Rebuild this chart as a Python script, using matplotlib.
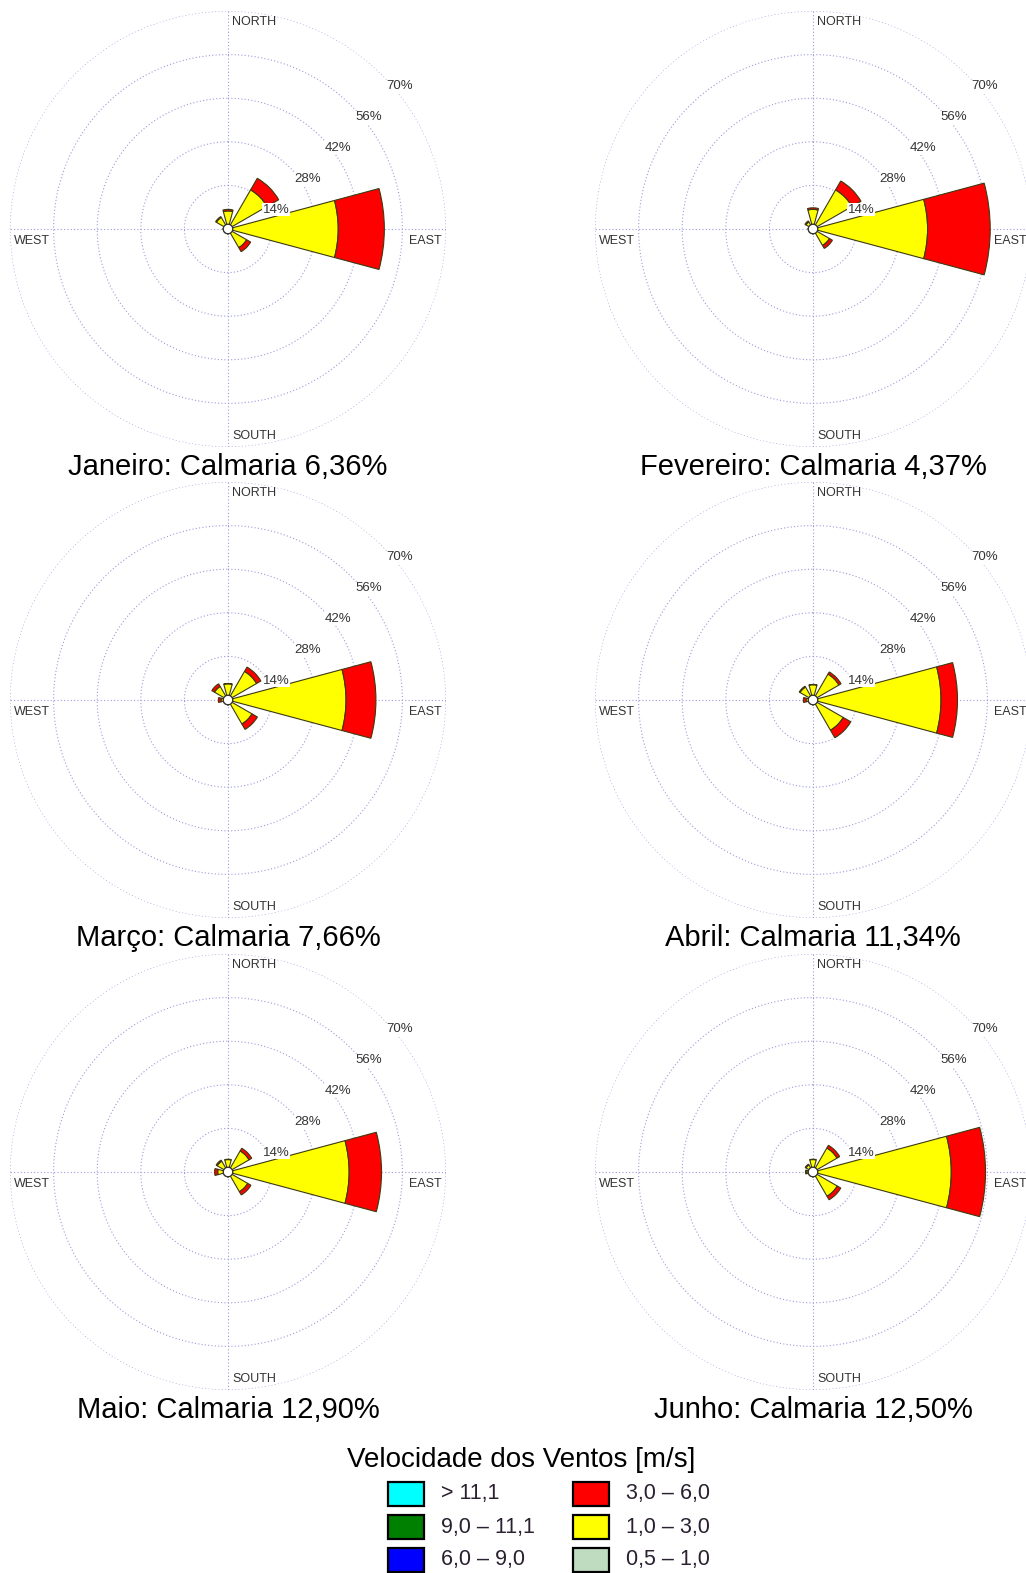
import numpy as np
import matplotlib.pyplot as plt
from matplotlib.patches import Rectangle

plt.rcParams['font.family'] = ['Liberation Sans', 'DejaVu Sans']

W, H = 1026, 1573
DPI = 100

# ========================== DATA ==========================
# compass bearings of the 8 sectors: N, NE, E, SE, S, SW, W, NW
bearings = [0, 45, 90, 135, 180, 225, 270, 315]
months = ['Janeiro', 'Fevereiro', 'Março', 'Abril', 'Maio', 'Junho']
calm = ['6,36', '4,37', '7,66', '11,34', '12,90', '12,50']

# petal lengths (% of time), one row per month, sectors as in `bearings`
speed_1_3 = [
    [4.3, 13.0, 33.9, 5.4, 0.0, 0.0, 0.0, 2.8],
    [4.8, 13.0, 35.3, 4.6, 0.0, 0.0, 0.0, 1.1],
    [3.7, 9.1, 36.4, 7.4, 0.0, 0.0, 0.7, 3.5],
    [3.4, 8.1, 39.6, 9.7, 0.0, 0.0, 0.7, 3.3],
    [2.5, 6.3, 37.4, 5.8, 0.0, 0.0, 1.8, 2.5],
    [2.5, 7.4, 42.9, 7.5, 0.0, 0.0, 0.5, 1.1],
]
speed_3_6 = [
    [0.5, 4.3, 14.8, 1.5, 0.0, 0.0, 0.0, 0.3],
    [0.5, 3.3, 20.1, 1.1, 0.0, 0.0, 0.0, 0.4],
    [0.1, 1.6, 9.6, 2.0, 0.0, 0.0, 0.9, 1.0],
    [0.1, 0.8, 5.3, 2.8, 0.0, 0.0, 0.9, 0.3],
    [0.1, 1.0, 10.4, 1.2, 0.0, 0.0, 1.0, 0.4],
    [0.1, 1.0, 11.0, 1.3, 0.0, 0.0, 0.4, 0.3],
]
rings = [14, 28, 42, 56, 70]

legend_labels = ['> 11,1', '9,0 – 11,1', '6,0 – 9,0', '3,0 – 6,0', '1,0 – 3,0', '0,5 – 1,0']
legend_colors = ['#00ffff', '#008000', '#0000ff', '#ff0000', '#ffff00', '#c0dcc0']

# ========================== LAYOUT ==========================
R_PX = 218            # pixel radius of the 70% ring
CALM_R = 1.5          # calm circle radius in % units
col_x = [228, 813]
row_y = [229, 700, 1172]
GRID = '#9c9cdc'
EDGE = '#3c3a10'
DOTS = (0, (1, 2))


def draw_rose(fig, cx, cy, yellow, red, title):
    ax = fig.add_axes([(cx - R_PX) / W, (H - cy - R_PX) / H, 2 * R_PX / W, 2 * R_PX / H],
                      projection='polar')
    ax.set_theta_zero_location('N')
    ax.set_theta_direction(-1)
    ax.set_ylim(0, 70)
    ax.grid(False)
    ax.set_xticks([])
    ax.set_yticks([])
    ax.spines['polar'].set_visible(False)
    ax.patch.set_visible(False)

    t = np.linspace(0, 2 * np.pi, 400)
    for r in rings:
        ax.plot(t, np.full_like(t, r), color=GRID, lw=0.8, ls=DOTS, zorder=1)
    for b in bearings[::2]:
        ax.plot([np.radians(b)] * 2, [0, 70], color=GRID, lw=0.8, ls=DOTS, zorder=1)

    theta = np.radians(bearings)
    width = np.radians(30)
    yellow = np.array(yellow)
    red = np.array(red)
    ax.bar(theta, yellow, width=width, bottom=CALM_R, color='#ffff00',
           edgecolor=EDGE, lw=0.8, zorder=3)
    ax.bar(theta, red, width=width, bottom=CALM_R + yellow, color='#ff0000',
           edgecolor=EDGE, lw=0.8, zorder=3)
    ax.fill(t, np.full_like(t, CALM_R), facecolor='white', edgecolor='#303030',
            lw=0.8, zorder=4)

    for r in rings:
        ax.annotate(f'{r}%', (np.radians(45), r), xytext=(3, -4), textcoords='offset points',
                    ha='left', va='top', fontsize=9.5, color='#333333', zorder=5,
                    bbox=dict(boxstyle='square,pad=0.05', fc='white', ec='none'))

    kw = dict(transform=ax.transAxes, fontsize=9, color='#333333', zorder=5)
    ax.text(0.509, 0.988, 'NORTH', ha='left', va='top', **kw)
    ax.text(0.509, 0.012, 'SOUTH', ha='left', va='bottom', **kw)
    ax.text(0.008, 0.486, 'WEST', ha='left', va='top', **kw)
    ax.text(0.990, 0.486, 'EAST', ha='right', va='top', **kw)

    fig.text(cx / W, 1 - (cy + 238) / H, title, ha='center', va='center', fontsize=21)


fig = plt.figure(figsize=(W / DPI, H / DPI), dpi=DPI)

for i, month in enumerate(months):
    cx = col_x[i % 2]
    cy = row_y[i // 2]
    draw_rose(fig, cx, cy, speed_1_3[i], speed_3_6[i], f'{month}: Calmaria {calm[i]}%')

# legend
fig.text(521 / W, 1 - 1460 / H, 'Velocidade dos Ventos [m/s]', ha='center', va='center',
         fontsize=20)
sw_x = [388, 573]
lab_x = [441, 626]
row_c = [1494, 1527, 1560]
for k, (lab, col) in enumerate(zip(legend_labels, legend_colors)):
    c, r = k // 3, k % 3
    y = row_c[r]
    fig.patches.append(Rectangle((sw_x[c] / W, 1 - (y + 12) / H), 36 / W, 24 / H,
                                 transform=fig.transFigure, facecolor=col,
                                 edgecolor='black', lw=1.6))
    fig.text(lab_x[c] / W, 1 - y / H, lab, ha='left', va='center', fontsize=15.5,
             color='#2a2030')

fig.savefig('out.png', dpi=DPI)
